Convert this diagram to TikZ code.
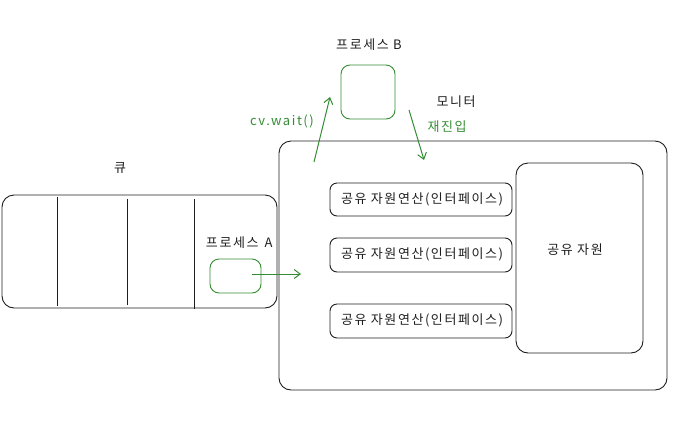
\documentclass[tikz,border=0pt]{standalone}
\usepackage{fontspec}
\setmainfont{Noto Sans CJK KR}
\newfontfamily\skfont[LetterSpace=12]{Noto Sans CJK KR}
\usetikzlibrary{arrows.meta}
\definecolor{sgreen}{RGB}{52,140,52}
\definecolor{sdark}{RGB}{30,30,30}
\begin{document}
\begin{tikzpicture}[x=1pt,y=-1pt,
  box/.style={draw=sdark,line width=0.9pt,rounded corners=12pt},
  ibox/.style={draw=sdark,line width=0.9pt,rounded corners=7pt},
  gbox/.style={draw=sgreen,line width=0.9pt,rounded corners=9pt},
  lbl/.style={font=\skfont\fontsize{13}{15}\selectfont,text=sdark,inner sep=0pt},
  glbl/.style={font=\skfont\fontsize{13}{15}\selectfont,text=sgreen,inner sep=0pt},
  garrow/.style={draw=sgreen,line width=1pt,-{Straight Barb[length=6pt,width=9pt]}}]
\useasboundingbox (0,0) rectangle (696,437);
% monitor
\draw[box] (279,141) rectangle (667,390);
\node[lbl] (monlbl) at (456,102) {모니터};
% queue
\draw[box] (2,195) rectangle (277,308);
\draw[sdark,line width=1pt] (57,197) -- (57,306);
\draw[sdark,line width=1pt] (127,199) -- (127,305);
\draw[sdark,line width=0.9pt] (194,199) -- (194,309);
\node[lbl] (qlbl) at (120,168) {큐};
% process A
\node[lbl] (albl) at (240,243) {프로세스 \textit{A}};
\draw[gbox] (210,259) rectangle (261,293);
\coordinate (a1) at (252,274);
\coordinate (a2) at (301,274);
\draw[garrow] (a1) -- (a2);
% process B
\node[lbl] (blbl) at (369,45) {프로세스 B};
\draw[gbox] (341,65) rectangle (395,119);
\node[glbl] (cv) at (282,121) {cv.wait()};
\coordinate (c1) at (314,162);
\coordinate (c2) at (330,97);
\draw[garrow] (c1) -- (c2);
\node[glbl] (re) at (447,127) {재진입};
\coordinate (r1) at (409,110);
\coordinate (r2) at (424,160);
\draw[garrow] (r1) -- (r2);
% interface boxes
\draw[ibox] (330,183) rectangle (512,216);
\node[lbl] (i1) at (422,199.5) {공유 자원연산(인터페이스)};
\draw[ibox] (330,238) rectangle (512,272);
\node[lbl] (i2) at (422,254.5) {공유 자원연산(인터페이스)};
\draw[ibox] (330,304) rectangle (512,338);
\node[lbl] (i3) at (422,320.5) {공유 자원연산(인터페이스)};
% shared resource
\draw[box] (516,163) rectangle (643,353);
\node[lbl] (res) at (575,250) {공유 자원};
\end{tikzpicture}
\end{document}
